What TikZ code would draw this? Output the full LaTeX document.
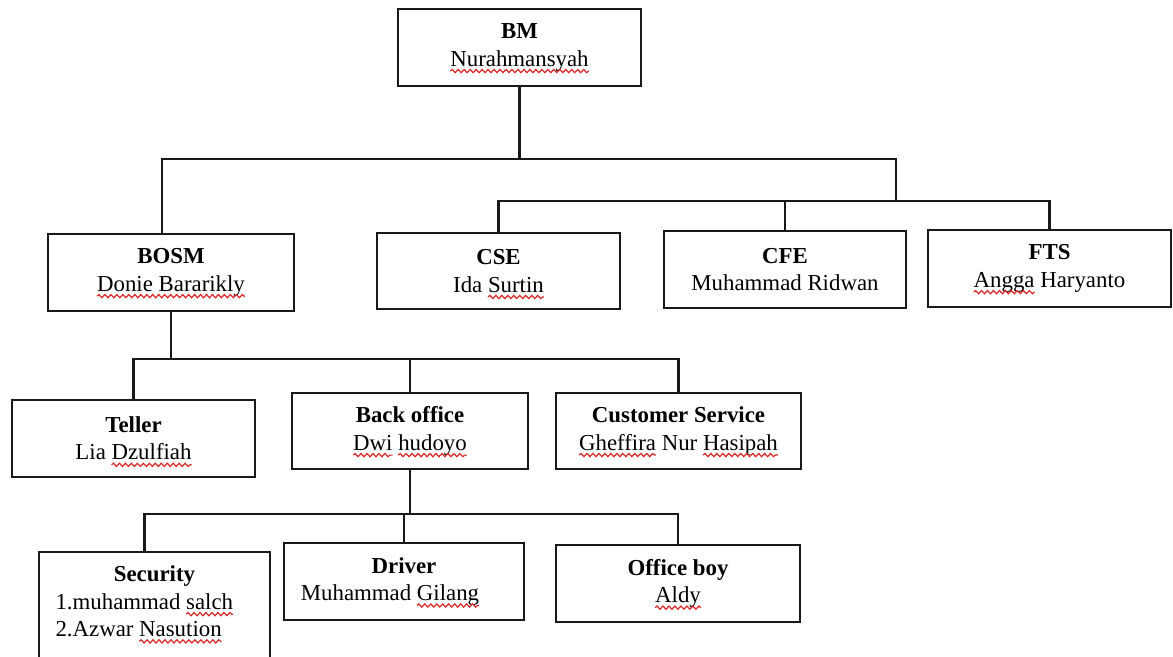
\documentclass[tikz,border=0pt]{standalone}
\usepackage{fontspec}
\setmainfont{Liberation Serif}
\usetikzlibrary{decorations.pathmorphing}
\definecolor{orgLine}{RGB}{25,25,25}
\definecolor{orgTypo}{RGB}{220,40,40}
% red wavy mark under a word
\newcommand{\typo}[1]{\tikz[baseline=(w.base)]{%
    \node[inner sep=0pt, outer sep=0pt, minimum width=0pt, minimum height=0pt, text width={}, text depth={}, text height={}, anchor=base] (w) {#1};
    \draw[overlay, orgTypo, line width=0.7pt, decorate, decoration={snake, amplitude=0.9pt, segment length=3.4pt}]
        ([yshift=-2.8pt]w.base west) -- ([yshift=-2.8pt]w.base east);}}
\tikzset{
    orgBox/.style={
        rectangle,
        draw=orgLine,
        line width=1.3pt,
        fill=white,
        minimum height=1.54cm,
        align=center,
        font=\fontsize{13}{15.5}\selectfont,
        inner sep=2pt
    },
    orgLink/.style={draw=orgLine, line width=1.3pt}
}
\begin{document}
\begin{tikzpicture}[x=0.02cm, y=-0.02cm]
\useasboundingbox (0,0) rectangle (1173,656);
\clip (0,0) rectangle (1173,656);

% top
\node[orgBox, minimum width=4.86cm] (bm) at (519.5,47.5) {\textbf{BM}\\\typo{Nurahmansyah}};

% second row
\node[orgBox, minimum width=4.92cm] (bosm) at (171,272.5) {\textbf{BOSM}\\\typo{Donie Bararikly}};
\node[orgBox, minimum width=4.86cm, minimum height=1.52cm] (cse) at (498.5,271) {\textbf{CSE}\\Ida \typo{Surtin}};
\node[orgBox, minimum width=4.84cm] (cfe) at (785,269.5) {\textbf{CFE}\\Muhammad Ridwan};
\node[orgBox, minimum width=4.86cm] (fts) at (1049.5,268.5) {\textbf{FTS}\\\typo{Angga} Haryanto};

% third row
\node[orgBox, minimum width=4.86cm] (teller) at (133.5,438.5) {\textbf{Teller}\\Lia \typo{Dzulfiah}};
\node[orgBox, minimum width=4.72cm, minimum height=1.52cm] (back) at (410,431) {\textbf{Back office}\\\typo{Dwi} \typo{hudoyo}};
\node[orgBox, minimum width=4.9cm, minimum height=1.52cm] (cs) at (678.5,431) {\textbf{Customer Service}\\\typo{Gheffira} Nur \typo{Hasipah}};

% fourth row
\node[orgBox, anchor=north, minimum width=4.62cm, text width=3.96cm, align=flush left, inner ysep=0.28cm, text depth=3cm] (sec) at (154.5,551)
    {\noindent\makebox[\hsize]{\textbf{Security}}\\1.muhammad \typo{salch}\\2.Azwar \typo{Nasution}};
\node[orgBox, minimum width=4.8cm] (driver) at (404,581.5) {\textbf{Driver}\\Muhammad \typo{Gilang}\hspace*{0.56cm}};
\node[orgBox, minimum width=4.88cm] (ob) at (678,583.5) {\textbf{Office boy}\\\typo{Aldy}};

% bus lines
\coordinate (busA) at (0,159);
\coordinate (busB) at (0,201);
\coordinate (busC) at (0,359);
\coordinate (busD) at (0,514);
\coordinate (dropB) at (896,0);

\draw[orgLink] (bm.south) -- (bm.south |- busA);
\draw[orgLink] ([xshift=-0.18cm]bosm.north) |- (busA -| dropB) -- (busB -| dropB);
\draw[orgLink] (cse.north) |- (busB -| fts.north) -- (fts.north);
\draw[orgLink] (cfe.north) -- (cfe.north |- busB);
\draw[orgLink] (bosm.south) -- (bosm.south |- busC);
\draw[orgLink] (teller.north) |- (busC -| cs.north) -- (cs.north);
\draw[orgLink] (back.north) -- (back.north |- busC);
\draw[orgLink] (back.south) -- (back.south |- busD);
\draw[orgLink] ([xshift=-0.2cm]sec.north) |- (busD -| ob.north) -- (ob.north);
\draw[orgLink] (driver.north) -- (driver.north |- busD);
\end{tikzpicture}
\end{document}
